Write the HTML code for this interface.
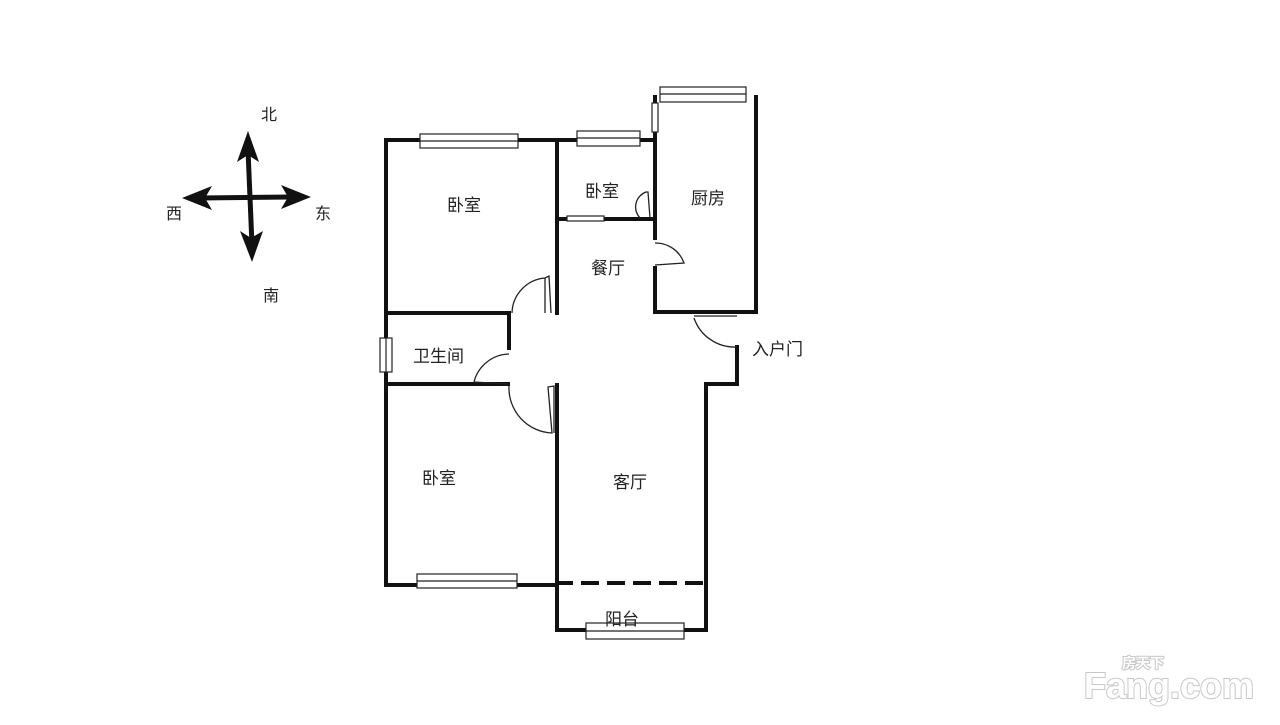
<!DOCTYPE html>
<html><head><meta charset="utf-8"><style>
body{margin:0;background:#fff;width:1280px;height:720px;overflow:hidden}
svg text{font-family:"Liberation Sans","Noto Sans CJK SC",sans-serif}
</style></head><body>
<svg width="1280" height="720" viewBox="0 0 1280 720" xmlns="http://www.w3.org/2000/svg">
<g fill="#111" stroke="#111">
<line x1="248" y1="150" x2="252" y2="245" stroke-width="5"/>
<line x1="200" y1="198" x2="292" y2="197" stroke-width="5"/>
<polygon points="248,131 237,162 248,155 259,162" stroke="none"/>
<polygon points="252,262 240,231 251,238 263,231" stroke="none"/>
<polygon points="182,198 212,186 205,198 212,210" stroke="none"/>
<polygon points="311,197 281,185 288,197 281,209" stroke="none"/>
</g>
<g font-size="16" fill="#222">
<text x="261" y="120">北</text><text x="166" y="219">西</text><text x="315" y="219">东</text><text x="263" y="301">南</text>
</g>
<g stroke="#111" stroke-width="4" fill="none" stroke-linecap="square">
<path d="M386 140 H655 M386 140 V585 H557 M557 140 V313 M655 97 V238 M655 268 V312 H756 V97 M557 219 H655"/>
<path d="M386 313 H509 V348 M386 384 H508 M737 347 V384 H706 V583 V630 H557 V385"/>
<path d="M557 583 H706" stroke-dasharray="14,12"/>
</g>
<g stroke="#222" stroke-width="1.2" fill="#fff">
<rect x="420" y="134" width="98" height="14"/><line x1="420" y1="141" x2="518" y2="141"/>
<rect x="577" y="131" width="63" height="15"/><line x1="577" y1="138" x2="640" y2="138"/>
<rect x="660" y="87" width="86" height="15"/><line x1="660" y1="94" x2="746" y2="94"/>
<rect x="652" y="103" width="6" height="29"/>
<rect x="567" y="216" width="37" height="5"/>
<rect x="380" y="338" width="12" height="34"/><line x1="386" y1="338" x2="386" y2="372"/>
<rect x="417" y="574" width="100" height="14"/><line x1="417" y1="581" x2="517" y2="581"/>
<rect x="586" y="623" width="98" height="16"/><line x1="586" y1="631" x2="684" y2="631"/>
</g>
<g stroke="#222" stroke-width="1.3" fill="none">
<path d="M640 218 A16 16 0 0 1 646 192 L648 192 L650 218"/>
<path d="M655 243 A30 30 0 0 1 684 263 L655 265"/>
<path d="M545 313 V278 L549 276 L551 313 M545 278 A36 36 0 0 0 512 313"/>
<path d="M509 354 A37 37 0 0 0 474 382 L508 384"/>
<path d="M509 386 A45 45 0 0 0 552 433 L548 387 L554 386 V433"/>
<path d="M694 316 H737 M694 318 A43 43 0 0 0 737 347"/>
</g>
<g font-size="17" fill="#222">
<text x="447" y="211">卧室</text><text x="585" y="197">卧室</text><text x="691" y="204">厨房</text>
<text x="591" y="274">餐厅</text><text x="413" y="362">卫生间</text><text x="422" y="484">卧室</text>
<text x="613" y="488">客厅</text><text x="605" y="625">阳台</text><text x="752" y="355">入户门</text>
</g>
<g fill="#fff" stroke="#c8c8c8" stroke-width="2" font-weight="bold" style="paint-order:stroke">
<text x="1122" y="668" font-size="14">房天下</text>
<text x="1084" y="698" font-size="36">Fang.com</text>
</g>
</svg>
</body></html>
